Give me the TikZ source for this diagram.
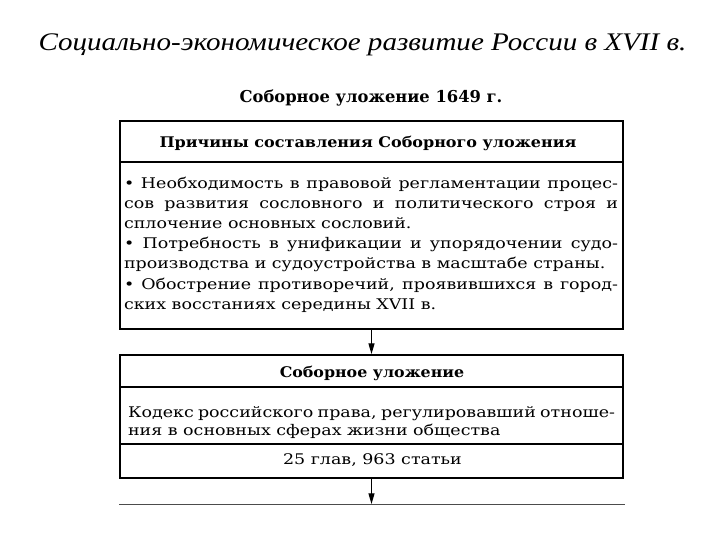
\documentclass[tikz,border=0pt]{standalone}
\usepackage{graphicx}
\usepackage{fontspec}
\setmainfont{DejaVu Serif}
\newfontfamily\titlefont{Liberation Serif}
\usetikzlibrary{arrows.meta}
\newcommand{\wide}[2]{\scalebox{#1}[1]{#2}}
\begin{document}
\begin{tikzpicture}[x=0.75pt,y=-0.75pt,
  box/.style={draw, line width=1.4pt, inner sep=0pt, minimum width=377.25pt},
  sep/.style={line width=0.9pt},
  head/.style={font=\bfseries\fontsize{11}{13}\selectfont, inner sep=0pt, anchor=base},
  body/.style={font=\fontsize{11}{15.15}\selectfont, inner sep=0pt, anchor=base},
  arr/.style={line width=0.8pt, -{Triangle[length=8pt,width=4.5pt]}}]
\useasboundingbox (0,0) rectangle (720,540);
\node[font=\titlefont\itshape\fontsize{19}{22}\selectfont, inner sep=0pt, anchor=base] (title) at (362.5,50)
  {\wide{1.147}{Социально-экономическое развитие России в XVII в.}};
\node[font=\bfseries\fontsize{12.25}{14}\selectfont, inner sep=0pt, anchor=base] (sub) at (371,102)
  {Соборное уложение 1649 г.};
% box 1
\node[box, minimum height=156pt] (b1) at (371.5,225) {};
\coordinate (s1) at (0,162);
\draw[sep] (b1.west |- s1) -- (b1.east |- s1);
\node[head] (h1) at (368,147) {\wide{1.09}{Причины составления Соборного уложения}};
\node[body] (t1) at (371,188) {\wide{1.19}{\parbox[t]{311.3pt}{%
• Необходимость в правовой регламентации процес-\linebreak
сов развития сословного и политического строя и\linebreak
сплочение основных сословий.\\
• Потребность в унификации и упорядочении судо-\linebreak
производства и судоустройства в масштабе страны.\\
• Обострение противоречий, проявившихся в город-\linebreak
ских восстаниях середины XVII в.}}};
% box 2
\node[box, minimum height=92.25pt] (b2) at (371.5,416.5) {};
\coordinate (s2) at (0,387);
\coordinate (s3) at (0,444);
\draw[sep] (b2.west |- s2) -- (b2.east |- s2);
\draw[sep] (b2.west |- s3) -- (b2.east |- s3);
\node[head] (h2) at (372,377) {\wide{1.08}{Соборное уложение}};
\node[body, font=\fontsize{11}{13.9}\selectfont] (t2) at (371.5,417) {\wide{1.19}{\parbox[t]{306.9pt}{%
Кодекс российского права, регулировавший отноше-\linebreak
ния в основных сферах жизни общества}}};
\node[body] (t3) at (372.5,464) {\wide{1.19}{25 глав, 963 статьи}};
% arrows
\draw[arr] (b1.south) -- (b2.north);
\coordinate (c1) at (119,504);
\coordinate (c2) at (625,504);
\draw[line width=0.7pt, black!70] (c1) -- (c2);
\draw[arr] (b2.south) -- (b2.south |- c1);
\end{tikzpicture}
\end{document}
